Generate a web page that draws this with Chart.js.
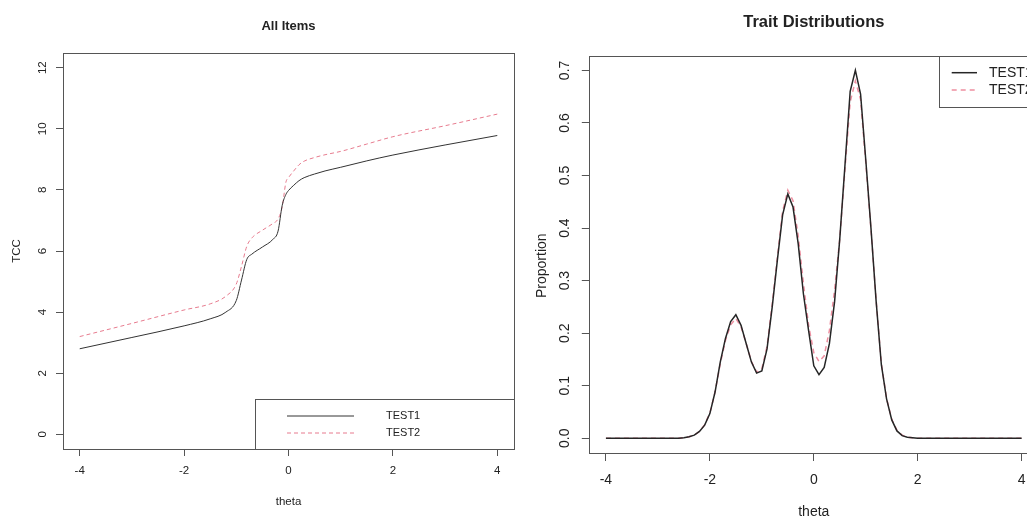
<!DOCTYPE html>
<html>
<head>
<meta charset="utf-8">
<title>TCC and trait distributions</title>
<script src="https://cdn.jsdelivr.net/npm/chart.js@4.4.0/dist/chart.umd.min.js"></script>
<style>
  html, body { margin: 0; padding: 0; background: #fff; overflow: hidden; width: 1027px; height: 518px; }
  canvas { position: absolute; top: 0; }
  #tccChart { left: 0; }
  #traitChart { left: 520px; }
</style>
</head>
<body>
<canvas id="tccChart" width="520" height="540"></canvas>
<canvas id="traitChart" width="540" height="540"></canvas>
<script>
// --- data: test characteristic curves (left panel)
const tccTheta = [-4, -3, -2, -1.5, -1.2, -1.0, -0.9, -0.8, -0.7, -0.5, -0.3, -0.2, -0.12, -0.05, 0, 0.1, 0.2, 0.3, 0.5, 0.7, 1.0, 1.5, 2.0, 3.0, 4.0];
const tccTest1 = [2.80, 3.17, 3.55, 3.78, 4.00, 4.38, 5.05, 5.72, 5.90, 6.13, 6.38, 6.65, 7.50, 7.85, 7.98, 8.15, 8.30, 8.40, 8.52, 8.62, 8.74, 8.95, 9.14, 9.47, 9.78];
const tccTest2 = [3.20, 3.63, 4.07, 4.27, 4.52, 4.92, 5.50, 6.15, 6.43, 6.68, 6.90, 7.05, 7.45, 8.25, 8.40, 8.62, 8.82, 8.94, 9.06, 9.15, 9.26, 9.50, 9.74, 10.10, 10.48];
const tccTicks = [0, 2, 4, 6, 8, 10, 12];

// --- data: trait distributions (right panel)
const traitTheta = [-4, -2.6, -2.5, -2.4, -2.3, -2.2, -2.1, -2.0, -1.9, -1.8, -1.7, -1.6, -1.5, -1.4, -1.3, -1.2, -1.1, -1.0, -0.9, -0.8, -0.7, -0.6, -0.5, -0.4, -0.3, -0.2, -0.1, 0.0, 0.1, 0.2, 0.3, 0.4, 0.5, 0.6, 0.7, 0.8, 0.9, 1.0, 1.1, 1.2, 1.3, 1.4, 1.5, 1.6, 1.7, 1.8, 1.9, 2.0, 4];
const traitTest1 = [0, 0, 0.001, 0.003, 0.006, 0.013, 0.025, 0.047, 0.088, 0.145, 0.190, 0.222, 0.235, 0.215, 0.180, 0.145, 0.124, 0.128, 0.170, 0.250, 0.340, 0.425, 0.465, 0.440, 0.370, 0.275, 0.205, 0.138, 0.121, 0.135, 0.180, 0.260, 0.380, 0.520, 0.660, 0.700, 0.655, 0.530, 0.400, 0.260, 0.140, 0.075, 0.035, 0.014, 0.005, 0.002, 0.001, 0, 0];
const traitTest2 = [0, 0, 0.001, 0.003, 0.006, 0.013, 0.026, 0.048, 0.088, 0.142, 0.186, 0.216, 0.228, 0.212, 0.180, 0.146, 0.126, 0.132, 0.175, 0.255, 0.345, 0.432, 0.472, 0.452, 0.385, 0.295, 0.215, 0.163, 0.146, 0.157, 0.205, 0.282, 0.380, 0.512, 0.640, 0.680, 0.645, 0.525, 0.398, 0.262, 0.142, 0.076, 0.036, 0.015, 0.006, 0.002, 0.001, 0, 0];
const traitTicks = [0, 0.1, 0.2, 0.3, 0.4, 0.5, 0.6, 0.7];

const thetaTicks = [-4, -2, 0, 2, 4];
const seriesNames = ['TEST1', 'TEST2'];

const FONT = '"Liberation Sans", Arial, Helvetica, sans-serif';
const TXT = '#222';
const AXIS = '#555';
const BLACK = '#333';
const PINK = '#e77b8e';
const PINK_LIGHT = '#ee8fa0';

Chart.defaults.font.family = FONT;
Chart.defaults.color = TXT;
Chart.defaults.animation = false;

function pts(xs, ys) {
    return xs.map((x, i) => ({ x: x, y: ys[i] }));
}

function fixedTicks(values) {
    return scale => { scale.ticks = values.map(v => ({ value: v })); };
}

// box around the plot region, like R's box()
const plotBox = {
    id: 'plotBox',
    afterDraw(chart) {
        const a = chart.chartArea;
        const ctx = chart.ctx;
        ctx.save();
        ctx.strokeStyle = AXIS;
        ctx.lineWidth = 1;
        ctx.strokeRect(Math.round(a.left) + 0.5, Math.round(a.top) + 0.5,
            Math.round(a.right - a.left), Math.round(a.bottom - a.top));
        ctx.restore();
    }
};

// R style legend box
const rLegend = {
    id: 'rLegend',
    afterDraw(chart, args, o) {
        if (!o || !o.width) return;
        const a = chart.chartArea;
        const ctx = chart.ctx;
        const x = a.right - o.width;
        const y = o.bottom ? a.bottom - o.height : a.top;
        ctx.save();
        ctx.fillStyle = '#fff';
        ctx.fillRect(x, y, o.width, o.height);
        ctx.strokeStyle = AXIS;
        ctx.lineWidth = 1;
        ctx.strokeRect(Math.round(x) + 0.5, Math.round(y) + 0.5, Math.round(o.width), Math.round(o.height));
        ctx.font = o.fontSize + 'px ' + FONT;
        ctx.textBaseline = 'middle';
        ctx.textAlign = 'left';
        chart.data.datasets.forEach((ds, i) => {
            const ly = y + o.rows[i];
            ctx.beginPath();
            ctx.setLineDash(ds.borderDash || []);
            ctx.strokeStyle = ds.borderColor;
            ctx.lineWidth = ds.borderWidth;
            ctx.moveTo(x + o.lineX[0], ly);
            ctx.lineTo(x + o.lineX[1], ly);
            ctx.stroke();
            ctx.setLineDash([]);
            ctx.fillStyle = TXT;
            ctx.fillText(ds.label, x + o.textX, ly);
        });
        ctx.restore();
    }
};

// extra text (y title that sits off centre in the reference)
const sideTitle = {
    id: 'sideTitle',
    afterDraw(chart, args, o) {
        if (!o || !o.text) return;
        const ctx = chart.ctx;
        ctx.save();
        ctx.translate(o.x, o.y);
        ctx.rotate(-Math.PI / 2);
        ctx.font = o.fontSize + 'px ' + FONT;
        ctx.fillStyle = TXT;
        ctx.textAlign = 'center';
        ctx.textBaseline = 'middle';
        ctx.fillText(o.text, 0, 0);
        ctx.restore();
    }
};

function tickGrid(len) {
    return { display: true, drawOnChartArea: false, drawTicks: true, tickLength: len, tickColor: AXIS, tickWidth: 1 };
}

// ---------- left: All Items
new Chart(document.getElementById('tccChart'), {
    type: 'line',
    data: {
        datasets: [
            { label: seriesNames[0], data: pts(tccTheta, tccTest1), borderColor: BLACK, borderWidth: 1, pointRadius: 0, cubicInterpolationMode: 'monotone', fill: false },
            { label: seriesNames[1], data: pts(tccTheta, tccTest2), borderColor: PINK, borderWidth: 1, borderDash: [4, 3], pointRadius: 0, cubicInterpolationMode: 'monotone', fill: false }
        ]
    },
    options: {
        responsive: false,
        layout: { padding: { left: 0, right: 6, top: 0, bottom: 0 } },
        events: [],
        plugins: {
            legend: { display: false },
            tooltip: { enabled: false },
            title: {
                display: true, text: 'All Items', fullSize: false, color: TXT,
                font: { size: 13, weight: 'bold' }, padding: { top: 18.9, bottom: 18.5 }
            },
            rLegend: { width: 259, height: 50, bottom: true, rows: [17, 34], lineX: [32, 99], textX: 131, fontSize: 11 }
        },
        scales: {
            x: {
                type: 'linear', min: -4.32, max: 4.32,
                afterBuildTicks: fixedTicks(thetaTicks),
                afterFit: s => { s.height = 91; },
                grid: tickGrid(7),
                border: { display: false },
                ticks: { font: { size: 11.5 }, color: TXT, padding: 8, maxRotation: 0, autoSkip: false, callback: v => String(v) },
                title: { display: true, text: 'theta', color: TXT, font: { size: 11.5 }, padding: { top: 0, bottom: 31.4 } }
            },
            y: {
                type: 'linear', min: -0.48, max: 12.48,
                afterBuildTicks: fixedTicks(tccTicks),
                afterFit: s => { s.width = 63; },
                grid: tickGrid(7),
                border: { display: false },
                ticks: { font: { size: 11.5 }, color: TXT, padding: 7, minRotation: 90, maxRotation: 90, crossAlign: 'center', autoSkip: false, callback: v => String(v) },
                title: { display: true, text: 'TCC', color: TXT, font: { size: 11.5 }, padding: { top: 10.2, bottom: 0 } }
            }
        }
    },
    plugins: [plotBox, rLegend]
});

// ---------- right: Trait Distributions
new Chart(document.getElementById('traitChart'), {
    type: 'line',
    data: {
        datasets: [
            { label: seriesNames[0], data: pts(traitTheta, traitTest1), borderColor: '#262626', borderWidth: 1.5, pointRadius: 0, tension: 0, fill: false },
            { label: seriesNames[1], data: pts(traitTheta, traitTest2), borderColor: PINK_LIGHT, borderWidth: 1.5, borderDash: [5, 4], pointRadius: 0, tension: 0, fill: false }
        ]
    },
    options: {
        responsive: false,
        layout: { padding: { left: 0, right: 21.7, top: 0, bottom: 0 } },
        events: [],
        plugins: {
            legend: { display: false },
            tooltip: { enabled: false },
            title: {
                display: true, text: 'Trait Distributions', fullSize: false, color: TXT,
                font: { size: 16.5, weight: 'bold' }, padding: { top: 12.8, bottom: 23.1 }
            },
            rLegend: { width: 99.3, height: 51, bottom: false, rows: [17, 34.3], lineX: [12.7, 38], textX: 50, fontSize: 14 },
            sideTitle: { text: 'Proportion', x: 21.7, y: 265.7, fontSize: 14 }
        },
        scales: {
            x: {
                type: 'linear', min: -4.32, max: 4.32,
                afterBuildTicks: fixedTicks(thetaTicks),
                afterFit: s => { s.height = 87; },
                grid: tickGrid(8),
                border: { display: false },
                ticks: { font: { size: 14 }, color: TXT, padding: 10.8, maxRotation: 0, autoSkip: false, callback: v => String(v) },
                title: { display: true, text: 'theta', color: TXT, font: { size: 14 }, padding: { top: 0, bottom: 19.9 } }
            },
            y: {
                type: 'linear', min: -0.028, max: 0.728,
                afterBuildTicks: fixedTicks(traitTicks),
                afterFit: s => { s.width = 69.3; },
                grid: tickGrid(7.5),
                border: { display: false },
                ticks: { font: { size: 14 }, color: TXT, padding: 7.1, minRotation: 90, maxRotation: 90, crossAlign: 'center', autoSkip: false, callback: v => v.toFixed(1) }
            }
        }
    },
    plugins: [plotBox, rLegend, sideTitle]
});
</script>
</body>
</html>
